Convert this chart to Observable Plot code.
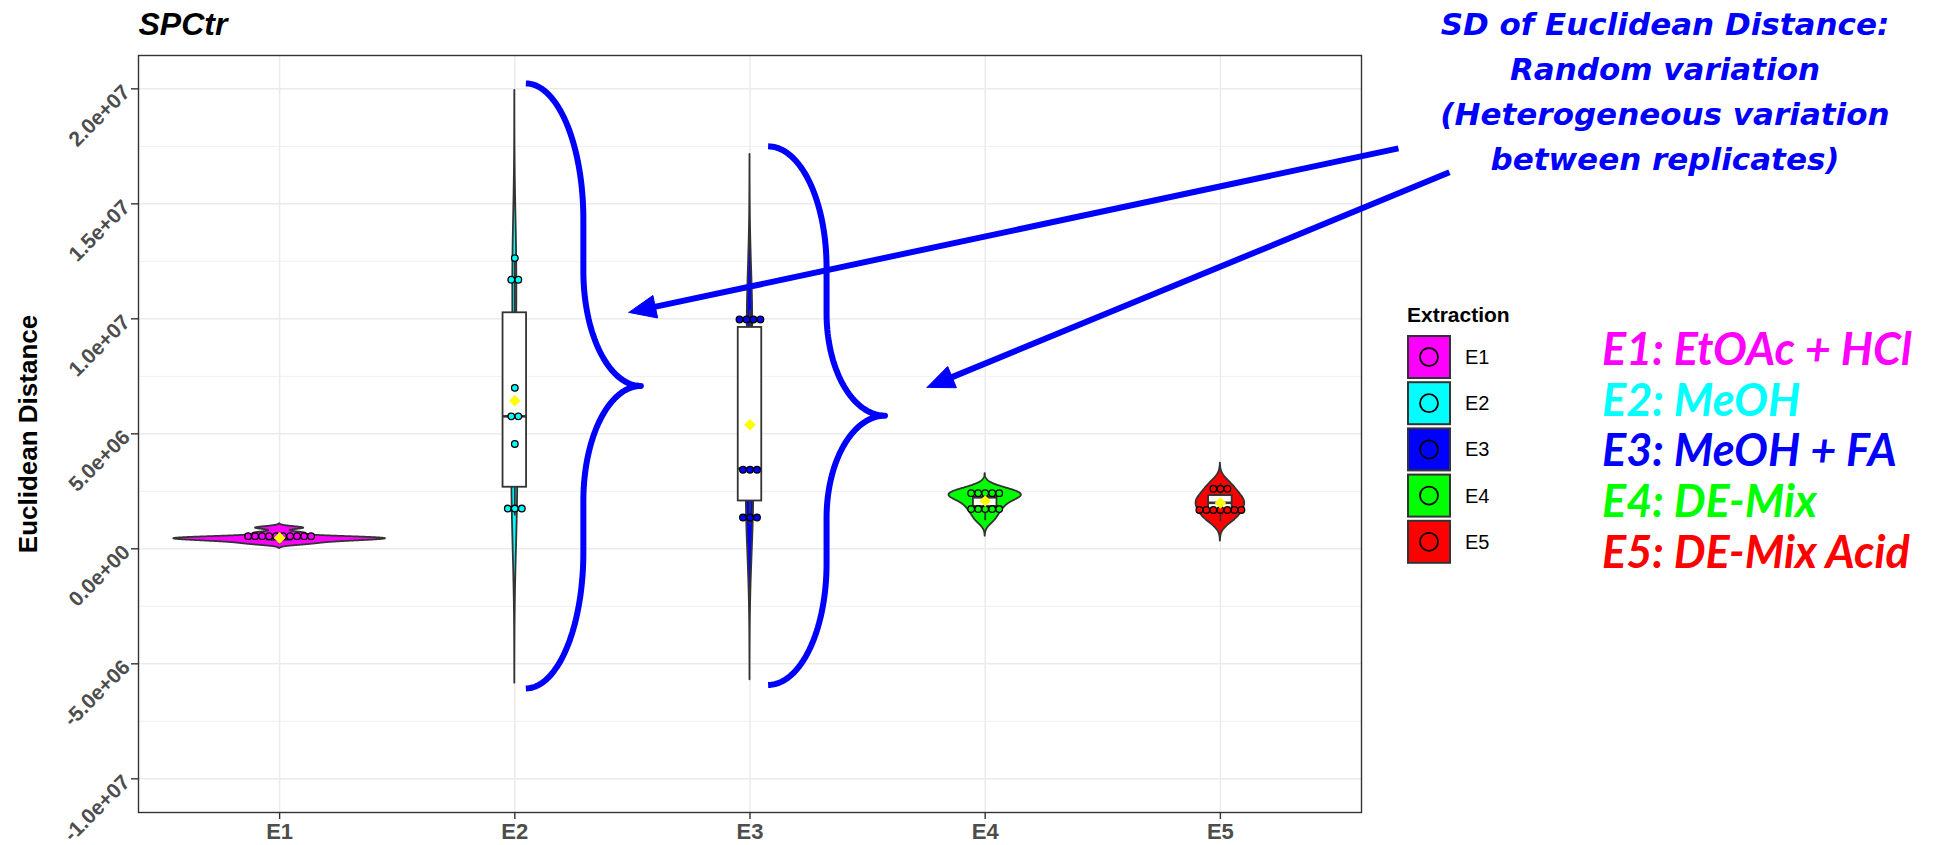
<!DOCTYPE html>
<html><head><meta charset="utf-8">
<script src="https://cdn.jsdelivr.net/npm/d3@7"></script>
<script src="https://cdn.jsdelivr.net/npm/@observablehq/plot@0.6"></script>
<style>
body{margin:0;background:#fff;}
#wrap{position:relative;width:1946px;height:845px;overflow:hidden;background:#fff;}
#wrap svg{position:absolute;left:0;top:0;}
</style></head><body><div id="wrap"></div>
<script>
// ---------------- data ----------------
const categories = ["E1","E2","E3","E4","E5"];
const colors = ["#FF00FF","#00FFFF","#0000FF","#00FF00","#FF0000"];
const noteLabels = ["E1: EtOAc + HCl","E2: MeOH","E3: MeOH + FA","E4: DE-Mix","E5: DE-Mix Acid"];
// replicate Euclidean distances in units of 1e6 (estimated from the dots)
const E1 = [0.20,0.30,0.36,0.40,0.43,0.46,0.49,0.53,0.68,0.90];
const E2 = [1.45,1.75,2.05,4.56,5.70,5.82,7.00,11.35,12.05,12.64];
const E3 = [1.06,1.36,1.66,3.34,3.44,3.54,9.55,9.65,9.95,10.39];
const E4 = [1.24,1.55,1.80,1.95,2.22,2.26,2.32,2.40,2.50,2.58];
const E5 = [1.20,1.40,1.60,1.75,1.95,2.05,2.18,2.36,2.60,2.86];
const yTicks = [-1e7,-5e6,0,5e6,1e7,1.5e7,2e7];
const yMinor = [-7.5e6,-2.5e6,2.5e6,7.5e6,1.25e7,1.75e7];
const noteText = ["SD of Euclidean Distance:","Random variation","(Heterogeneous variation","between replicates)"];
// annotation anchors in data units (x: category index, y: distance)
const braces = [
  {xEnd:2.047, xTip:2.536, yTop:2.0235e7, yBot:-6.07e6},
  {xEnd:3.077, xTip:3.574, yTop:1.75e7, yBot:-5.92e6}
];
const arrows = [
  {x1:5.757, y1:1.741e7, x2:2.485, y2:1.028e7},
  {x1:5.974, y1:1.637e7, x2:3.753, y2:7.02e6}
];

// ---------------- layout ----------------
const W=1946, H=845, mL=138, mR=W-1361, mT=55, mB=H-812;
const xDomain=[0.4,5.6], yDomain=[-1.1465e7, 2.145e7];
const pxX=(W-mL-mR)/(xDomain[1]-xDomain[0]);
const pxY=(H-mT-mB)/(yDomain[1]-yDomain[0]);
const BINW=1e6, DOT=7;

const series=[E1,E2,E3,E4,E5];
const groups=categories.map((c,i)=>({cat:c, x:i+1, color:colors[i], values:series[i].map(v=>v*1e6)}));

function nrd0(v){const s=d3.deviation(v);const iqr=d3.quantile(v,0.75)-d3.quantile(v,0.25);return 0.9*Math.min(s,iqr/1.34)*Math.pow(v.length,-0.2);}
function kde(v){const bw=nrd0(v);const lo=d3.min(v)-3*bw,hi=d3.max(v)+3*bw,n=300;
  return d3.range(n).map(i=>{const y=lo+(hi-lo)*i/(n-1);
    const d=d3.mean(v,x=>Math.exp(-0.5*((y-x)/bw)**2))/(bw*Math.sqrt(2*Math.PI));return {y,d};});}
groups.forEach(g=>{
  g.dens=kde(g.values);
  const q1=d3.quantile(g.values,0.25), q3=d3.quantile(g.values,0.75), iqr=q3-q1;
  g.q1=q1; g.q3=q3; g.med=d3.median(g.values); g.mean=d3.mean(g.values);
  g.lo=d3.min(g.values.filter(v=>v>=q1-1.5*iqr)); g.hi=d3.max(g.values.filter(v=>v<=q3+1.5*iqr));
  // dot-density binning
  const s=[...g.values].sort((a,b)=>a-b); const bins=[]; let end=-Infinity, cur;
  for(const x of s){ if(x>=end){cur=[];bins.push(cur);end=x+BINW;} cur.push(x); }
  g.dots=[]; bins.forEach(b=>{const c=(b[0]+b[b.length-1])/2, n=b.length;
    for(let k=0;k<n;k++) g.dots.push({x:g.x+(k-(n-1)/2)*DOT/pxX, y:c});});
});
const maxD=d3.max(groups,g=>d3.max(g.dens,p=>p.d));

const sci=v=>{ if(v===0) return "0.0e+00"; const e=Math.floor(Math.log10(Math.abs(v))+1e-9);
  const m=v/Math.pow(10,e); return m.toFixed(1)+"e"+(e<0?"-":"+")+String(Math.abs(e)).padStart(2,"0"); };

function bracePoints(b){
  const r=(b.xTip-b.xEnd)/2*pxX, half=(b.yTop-b.yBot)/2*pxY, a=0.45*half, bb=0.38*half, N=40, pts=[];
  const P=(px,py)=>pts.push({x:b.xEnd+px/pxX, y:b.yTop-py/pxY});
  for(let i=0;i<=N;i++){const t=i/N*Math.PI/2; P(r*Math.sin(t), a-a*Math.cos(t));}
  for(let i=0;i<=N;i++){const t=i/N*Math.PI/2; P(2*r-r*Math.cos(t), half-bb+bb*Math.sin(t));}
  for(let i=N;i>=0;i--){const t=i/N*Math.PI/2; P(2*r-r*Math.cos(t), half+bb-bb*Math.sin(t));}
  for(let i=N;i>=0;i--){const t=i/N*Math.PI/2; P(r*Math.sin(t), 2*half-a+a*Math.cos(t));}
  return pts;
}
function arrowParts(a){
  const dx=(a.x2-a.x1)*pxX, dy=-(a.y2-a.y1)*pxY, L=Math.hypot(dx,dy), ux=dx/L, uy=dy/L, hl=27, hw=11.5;
  const bx=-ux*hl, by=-uy*hl;
  const toD=(px,py)=>({x:a.x2+px/pxX, y:a.y2-py/pxY});
  const base=toD(bx+ux*2,by+uy*2);
  const head=[toD(0,0),toD(bx-uy*hw,by+ux*hw),toD(bx+uy*hw,by-ux*hw),toD(0,0)];
  return {line:[{x1:a.x1,y1:a.y1,x2:base.x,y2:base.y}], head};
}

const marks=[
  Plot.ruleY(yMinor,{stroke:"#EBEBEB",strokeWidth:0.8}),
  Plot.ruleY(yTicks,{stroke:"#EBEBEB",strokeWidth:1.5}),
  Plot.ruleX([1,2,3,4,5],{stroke:"#EBEBEB",strokeWidth:1.5})
];
groups.forEach(g=>{
  marks.push(Plot.areaX(g.dens,{y:"y",x1:p=>g.x-0.45*p.d/maxD,x2:p=>g.x+0.45*p.d/maxD,fill:g.color,stroke:"#333333",strokeWidth:1.8,curve:"linear"}));
});
groups.forEach(g=>{
  marks.push(Plot.link([g],{x1:"x",x2:"x",y1:"q3",y2:"hi",stroke:"#333333",strokeWidth:1.8}));
  marks.push(Plot.link([g],{x1:"x",x2:"x",y1:"q1",y2:"lo",stroke:"#333333",strokeWidth:1.8}));
  marks.push(Plot.rect([g],{x1:d=>d.x-0.05,x2:d=>d.x+0.05,y1:"q1",y2:"q3",fill:"white",stroke:"#333333",strokeWidth:1.8}));
  marks.push(Plot.link([g],{x1:d=>d.x-0.05,x2:d=>d.x+0.05,y1:"med",y2:"med",stroke:"#333333",strokeWidth:2.6}));
});
groups.forEach(g=>{
  marks.push(Plot.dot(g.dots,{x:"x",y:"y",r:3.3,fill:g.color,stroke:"black",strokeWidth:1.3}));
});
groups.forEach(g=>{
  marks.push(Plot.dot([g],{x:"x",y:"mean",symbol:"diamond2",r:5.2,fill:"#FFFF00",stroke:"none"}));
});
marks.push(Plot.frame({stroke:"#333333",strokeWidth:1.4}));
marks.push(Plot.axisY(yTicks,{tickFormat:sci,tickRotate:-45,fontSize:21,fontWeight:"bold",color:"#4D4D4D",stroke:"#333333",strokeWidth:1.4,tickSize:7,tickPadding:5,label:null}));
marks.push(Plot.axisX([1,2,3,4,5],{tickFormat:i=>categories[i-1],fontSize:22,fontWeight:"bold",color:"#4D4D4D",stroke:"#333333",strokeWidth:1.4,tickSize:7,tickPadding:4,label:null}));
marks.push(Plot.text(["Euclidean Distance"],{text:d=>d,frameAnchor:"left",textAnchor:"middle",lineAnchor:"middle",rotate:-90,dx:-110,fontSize:26,fontWeight:"bold",fill:"black"}));
marks.push(Plot.text(["SPCtr"],{text:d=>d,frameAnchor:"top-left",textAnchor:"start",lineAnchor:"middle",dy:-31,fontSize:32,fontWeight:"bold",fontStyle:"italic",fill:"black"}));
braces.forEach(b=>marks.push(Plot.line(bracePoints(b),{x:"x",y:"y",stroke:"#0000FF",strokeWidth:6,curve:"linear",strokeLinecap:"butt"})));
arrows.forEach(a=>{const p=arrowParts(a);
  marks.push(Plot.link(p.line,{x1:"x1",y1:"y1",x2:"x2",y2:"y2",stroke:"#0000FF",strokeWidth:6}));
  marks.push(Plot.line(p.head,{x:"x",y:"y",fill:"#0000FF",stroke:"#0000FF",strokeWidth:1,curve:"linear"}));
});

const chart=Plot.plot({
  width:W,height:H,marginLeft:mL,marginRight:mR,marginTop:mT,marginBottom:mB,
  x:{type:"linear",domain:xDomain},
  y:{type:"linear",domain:yDomain},
  style:{fontFamily:"'Liberation Sans', Arial, sans-serif",background:"white",overflow:"visible"},
  marks
});
const wrap=document.getElementById("wrap");
wrap.appendChild(chart);

// ---------------- legend and notes (overlay) ----------------
const ov=d3.select(wrap).append("svg").attr("width",W).attr("height",H).style("pointer-events","none");
ov.append("text").attr("x",1407).attr("y",322).attr("font-family","'Liberation Sans', Arial, sans-serif")
  .attr("font-size",21).attr("font-weight","bold").text("Extraction");
categories.forEach((c,i)=>{
  const top=335+i*46.2;
  ov.append("rect").attr("x",1408).attr("y",top+1).attr("width",42).attr("height",42).attr("fill",colors[i]).attr("stroke","#333333").attr("stroke-width",2);
  ov.append("circle").attr("cx",1429).attr("cy",top+22).attr("r",9).attr("fill",colors[i]).attr("stroke","black").attr("stroke-width",1.8);
  ov.append("text").attr("x",1465).attr("y",top+29).attr("font-family","'Liberation Sans', Arial, sans-serif").attr("font-size",20).text(c);
  ov.append("text").attr("x",1602).attr("y",365+i*50.7).attr("font-family","Lato, 'Open Sans', sans-serif")
    .attr("font-size",45).attr("font-weight","bold").attr("font-style","italic").attr("fill",colors[i]).text(noteLabels[i]);
});
noteText.forEach((t,i)=>{
  ov.append("text").attr("x",1665).attr("y",35+i*45).attr("text-anchor","middle").attr("font-family","'DejaVu Sans', sans-serif")
    .attr("font-size",31).attr("font-weight","bold").attr("font-style","italic").attr("fill","#0000FF").text(t);
});
</script></body></html>
